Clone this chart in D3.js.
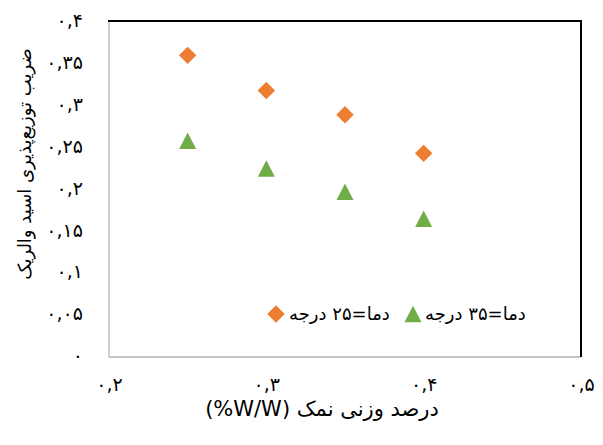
<!DOCTYPE html>
<html><head><meta charset="utf-8">
<script src="https://cdn.jsdelivr.net/npm/d3@7"></script>
<style>body{margin:0;background:#fff}svg{display:block}text{font-family:"DejaVu Sans",sans-serif;fill:#000}</style>
</head><body>
<svg id="c" width="603" height="445"></svg>
<script>
const xValues = [0.25, 0.30, 0.35, 0.40];
const temp25 = [0.359, 0.317, 0.288, 0.242];
const temp35 = [0.257, 0.224, 0.196, 0.164];
const seriesNames = ["دما=۲۵ درجه", "دما=۳۵ درجه"];
const xTicks = [0.2, 0.3, 0.4, 0.5];
const xTickLabels = ["۰,۲", "۰,۳", "۰,۴", "۰,۵"];
const yTicks = [0, 0.05, 0.1, 0.15, 0.2, 0.25, 0.3, 0.35, 0.4];
const yTickLabels = ["۰", "۰,۰۵", "۰,۱", "۰,۱۵", "۰,۲", "۰,۲۵", "۰,۳", "۰,۳۵", "۰,۴"];
const xTitle = "(%W/W) درصد وزنی نمک";
const yTitle = "ضریب توزیع‌پذیری اسید والریک";

const svg = d3.select("#c");
const L = 109, R = 581, T = 21, B = 356;
const x = d3.scaleLinear().domain([0.2, 0.5]).range([L, R]);
const y = d3.scaleLinear().domain([0, 0.4]).range([B, T]);
const orange = "#ED7D31", green = "#70AD47";

// frame
svg.append("line").attr("x1", L).attr("x2", L).attr("y1", T).attr("y2", B + 1).attr("stroke", "#d0d0d0").attr("stroke-width", 2);
svg.append("line").attr("x1", L).attr("x2", R).attr("y1", B + 1).attr("y2", B + 1).attr("stroke", "#c4c4c4").attr("stroke-width", 2);
svg.append("line").attr("x1", L - 1).attr("x2", R + 1).attr("y1", T).attr("y2", T).attr("stroke", "#000").attr("stroke-width", 2);
svg.append("line").attr("x1", R).attr("x2", R).attr("y1", T).attr("y2", B + 1).attr("stroke", "#000").attr("stroke-width", 2);

// axes
const yAxis = d3.axisLeft(y).tickValues(yTicks).tickSize(0).tickPadding(0)
  .tickFormat((d, i) => yTickLabels[i]);
const gy = svg.append("g").attr("transform", `translate(83,0)`).call(yAxis);
gy.select(".domain").remove();
gy.selectAll("text").style("font-size", "19px").attr("font-family", "DejaVu Sans").attr("fill", "#000").attr("dy", "0.3em");

const xAxis = d3.axisBottom(x).tickValues(xTicks).tickSize(0).tickPadding(0)
  .tickFormat((d, i) => xTickLabels[i]);
const gx = svg.append("g").attr("transform", `translate(0,380)`).call(xAxis);
gx.select(".domain").remove();
gx.selectAll("text").style("font-size", "19px").attr("font-family", "DejaVu Sans").attr("fill", "#000").attr("dy", "0.6em");

// titles
svg.append("text").attr("x", 322).attr("y", 416).attr("text-anchor", "middle").style("font-size", "21px").text(xTitle);
svg.append("text").attr("transform", `translate(31,164) rotate(-90)`).attr("text-anchor", "middle").style("font-size", "18px").text(yTitle);

// markers
const diamond = (cx, cy, r) => `M${cx},${cy - r}L${cx + r},${cy}L${cx},${cy + r}L${cx - r},${cy}Z`;
const tri = (cx, cy, w, h) => `M${cx},${cy - h / 2}L${cx + w / 2},${cy + h / 2}L${cx - w / 2},${cy + h / 2}Z`;

svg.append("g").selectAll("path").data(xValues.map((v, i) => [v, temp25[i]])).join("path")
  .attr("d", d => diamond(x(d[0]), y(d[1]), 8.7)).attr("fill", orange);
svg.append("g").selectAll("path").data(xValues.map((v, i) => [v, temp35[i]])).join("path")
  .attr("d", d => tri(x(d[0]), y(d[1]), 17, 16.5)).attr("fill", green);

// legend
const lg = svg.append("g");
lg.append("path").attr("d", diamond(276, 314, 8.7)).attr("fill", orange);
lg.append("text").attr("x", 289).attr("y", 320).style("font-size", "18px").text(seriesNames[0]);
lg.append("path").attr("d", tri(413, 314, 17, 16.5)).attr("fill", green);
lg.append("text").attr("x", 425).attr("y", 320).style("font-size", "18px").text(seriesNames[1]);
</script>
</body></html>
